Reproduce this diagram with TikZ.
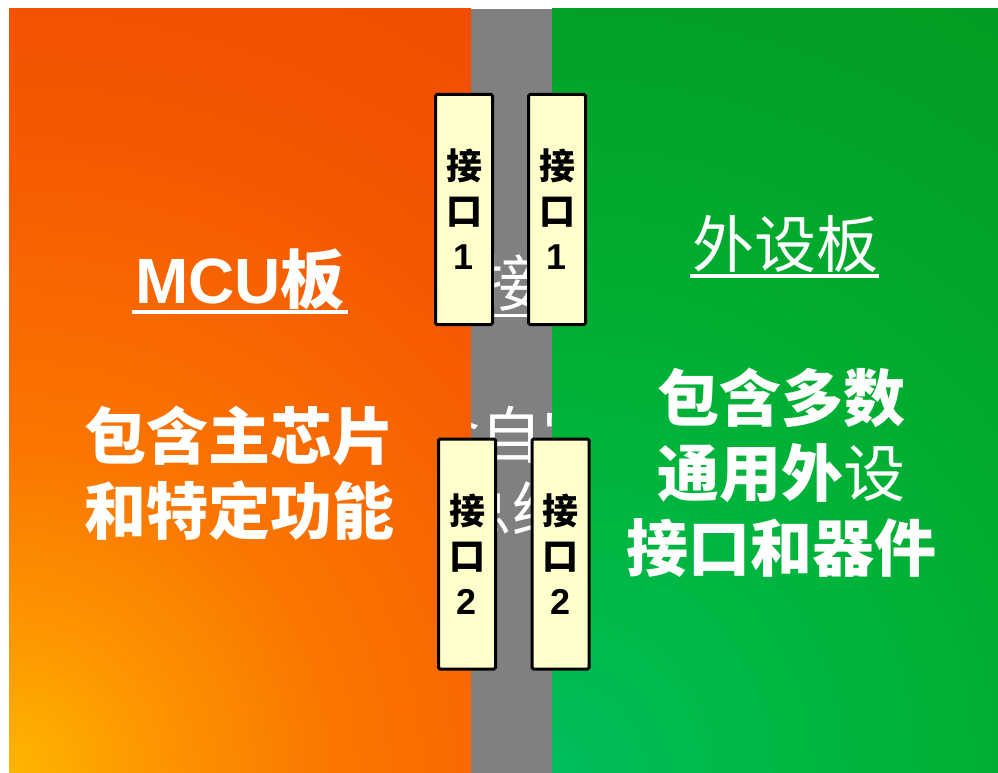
\documentclass[tikz,border=0pt]{standalone}
\usepackage{fontspec}
\setmainfont{Liberation Sans}
\newfontfamily\cjk{Noto Sans CJK SC}
\definecolor{o0}{RGB}{255,182,0}
\definecolor{o1}{RGB}{253,150,0}
\definecolor{o2}{RGB}{250,118,0}
\definecolor{o3}{RGB}{245,88,0}
\definecolor{o4}{RGB}{240,72,0}
\definecolor{o5}{RGB}{236,66,0}
\definecolor{g0}{RGB}{0,190,95}
\definecolor{g1}{RGB}{0,186,75}
\definecolor{g2}{RGB}{0,176,52}
\definecolor{g3}{RGB}{2,160,36}
\definecolor{g4}{RGB}{5,146,30}
\definecolor{g5}{RGB}{5,132,25}
\definecolor{bargray}{RGB}{128,128,128}
\definecolor{boxyellow}{RGB}{255,255,204}
\pgfdeclareradialshading{oshade}{\pgfpointorigin}{color(0bp)=(o0); color(4bp)=(o1); color(9bp)=(o2); color(18bp)=(o3); color(28bp)=(o4); color(50bp)=(o5)}
\pgfdeclareradialshading{gshade}{\pgfpointorigin}{color(0bp)=(g0); color(4bp)=(g1); color(12bp)=(g2); color(22bp)=(g3); color(38bp)=(g4); color(50bp)=(g5)}
\tikzset{
  bigtxt/.style={text=white, inner sep=0pt, align=center, font=\cjk\bfseries\fontsize{62}{75}\selectfont},
  graytxt/.style={text=white, inner sep=0pt, align=center, font=\cjk\fontsize{62}{75}\selectfont},
  titletxt/.style={text=white, inner sep=0pt, anchor=base},
  uline/.style={draw=white, line width=4.5pt},
  ibox/.style={draw=black, line width=3pt, fill=boxyellow, rounded corners=1.5pt,
    minimum width=57pt, minimum height=230pt, inner sep=0pt, align=center,
    font=\cjk\bfseries\fontsize{36}{45}\selectfont}
}
\begin{document}
\begin{tikzpicture}[x=1pt,y=-1pt]
\useasboundingbox (0,0) rectangle (998,773);
\fill[white] (0,0) rectangle (998,773);
% middle bar
\fill[bargray] (471,9) rectangle (552,773);
\node[graytxt, anchor=base] (gtitle) at (511,306.5) {连接器};
\draw[uline, line width=3pt] ([xshift=-1pt,yshift=-8.5pt]gtitle.base west) -- ([xshift=1pt,yshift=-8.5pt]gtitle.base east);
\node[graytxt] (gbody) at (511,472.5) {包含自定义\\总线};
% orange panel
\begin{scope}
\clip (9,9) rectangle (471,773);
\shade[shading=oshade] (9,773) circle (900pt);
\end{scope}
% green panel
\begin{scope}
\clip (552,9) rectangle (998,773);
\shade[shading=gshade] (552,773) circle (900pt);
\end{scope}
% titles
\node[titletxt] (mcu) at (240,303) {\fontsize{64}{70}\selectfont\bfseries MCU{\cjk\bfseries 板}};
\draw[uline] ([xshift=-3pt,yshift=-9pt]mcu.base west) -- ([xshift=3pt,yshift=-9pt]mcu.base east);
\node[titletxt] (peri) at (785,267) {\cjk\fontsize{62}{70}\selectfont 外设板};
\draw[uline, line width=4pt] ([xshift=-2pt,yshift=-9pt]peri.base west) -- ([xshift=1pt,yshift=-9pt]peri.base east);
% body texts
\node[bigtxt] (mcubody) at (239,473.5) {\fontsize{62}{73}\selectfont 包含主芯片\\和特定功能};
\node[bigtxt] (peribody) at (781,473) {包含多数\\通用外{\mdseries 设}\\接口和器件};
% interface boxes
\node[ibox] (l1) at (464,209.5) {接\\口\\{\rmfamily\bfseries 1}};
\node[ibox] (r1) at (557,209.5) {接\\口\\{\rmfamily\bfseries 1}};
\node[ibox] (l2) at (467,554) {接\\口\\{\rmfamily\bfseries 2}};
\node[ibox] (r2) at (560.5,554) {接\\口\\{\rmfamily\bfseries 2}};
\end{tikzpicture}
\end{document}
